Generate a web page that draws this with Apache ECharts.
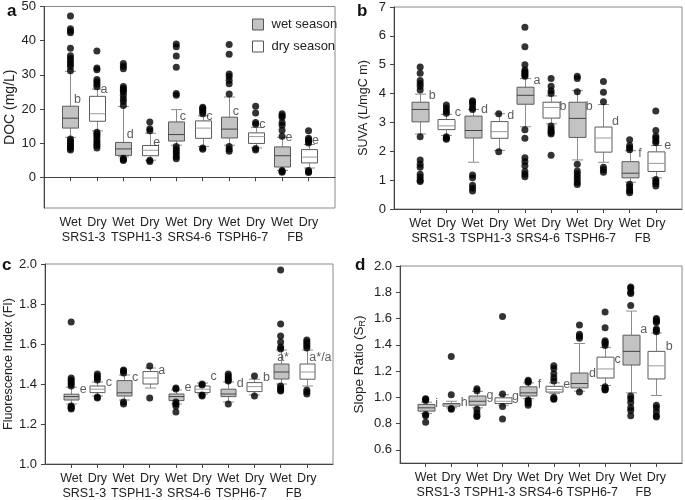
<!DOCTYPE html>
<html><head><meta charset="utf-8">
<script src="https://cdn.jsdelivr.net/npm/echarts@6/dist/echarts.min.js"></script>
<style>html,body{margin:0;padding:0;background:#fff}#c{width:685px;height:500px}</style>
</head><body><div id="c"></div>
<script>
// ---------- data ----------
const seasons = ['Wet', 'Dry'];
const sites = ['SRS1-3', 'TSPH1-3', 'SRS4-6', 'TSPH6-7', 'FB'];

// [lower whisker, Q1, median, Q3, upper whisker] for Wet/Dry of each site, in order
const docBox = [
  [11.7, 14.4, 17.3, 20.8, 31.0], [13.6, 16.4, 18.6, 23.7, 25.8],
  [6.0, 6.4, 8.3, 10.2, 20.7],    [5.0, 6.3, 7.9, 9.3, 12.9],
  [9.4, 10.6, 12.5, 16.2, 19.8],  [9.0, 11.4, 14.4, 16.5, 18.0],
  [9.4, 11.5, 14.1, 17.6, 23.5],  [8.6, 9.9, 11.9, 13.0, 14.6],
  [2.0, 3.0, 6.3, 8.9, 11.7],     [2.7, 4.2, 5.9, 8.1, 9.6]
];
const docOut = [
  [47.2, 43.5, 42.8, 42.3, 37.8, 35.6, 34.8, 34.0, 33.2, 32.4, 31.2, 11.2, 10.6, 10.0, 9.5, 9.0, 8.4, 8.0],
  [37.0, 32.0, 31.5, 28.6, 28.0, 27.2, 26.5, 13.2, 12.6, 12.0, 11.2, 10.5, 9.8, 9.2, 8.6],
  [33.3, 32.5, 31.8, 26.6, 26.0, 25.5, 25.0, 24.0, 23.0, 22.2, 21.0, 5.6, 5.2, 4.9],
  [16.2, 14.2, 13.6, 5.0, 4.6],
  [39.0, 38.2, 35.5, 32.2, 24.5, 24.0, 9.0, 8.2, 7.5, 6.8, 6.0, 5.4],
  [20.5, 20.1, 19.7, 19.2, 18.6, 8.6, 8.2],
  [38.9, 36.0, 30.2, 29.5, 28.4, 27.4, 24.4, 9.0, 8.2, 7.6],
  [20.8, 18.8, 16.0, 15.5, 8.4, 8.0],
  [18.6, 18.0, 17.6, 16.0, 15.2, 13.8, 12.0, 2.0, 1.7, 1.5],
  [13.6, 11.4, 11.0, 10.5, 10.0, 2.0, 1.6, 1.4]
];
const docLetters = ['b', 'a', 'd', 'e', 'c', 'c', 'c', 'c', 'e', 'e'];
const docLetterAt = [22.7, 25.8, 12.5, 10.2, 17.8, 17.8, 19.1, 15.4, 11.5, 10.7];

const suvaBox = [
  [2.6, 3.02, 3.45, 3.7, 3.98],  [2.55, 2.75, 2.88, 3.1, 3.28],
  [1.62, 2.46, 2.72, 3.22, 3.45], [2.03, 2.45, 2.68, 3.03, 3.3],
  [2.85, 3.63, 3.94, 4.22, 4.52], [2.95, 3.15, 3.52, 3.7, 3.92],
  [1.7, 2.48, 3.14, 3.7, 4.1],    [1.62, 1.97, 2.46, 2.84, 3.62],
  [0.93, 1.08, 1.24, 1.64, 2.02], [1.08, 1.3, 1.58, 1.98, 2.2]
];
const suvaOut = [
  [4.92, 4.7, 4.45, 4.35, 4.25, 4.12, 2.5, 1.7, 1.55, 1.45, 1.2, 1.1, 1.0, 0.95],
  [3.6, 3.5, 3.4, 3.32, 2.5, 2.45, 2.42],
  [3.75, 3.7, 3.62, 3.5, 3.45, 1.18, 1.08, 0.82, 0.72, 0.62],
  [3.3, 1.98],
  [6.3, 5.62, 5.0, 4.82, 4.76, 4.7, 4.64, 4.6, 2.75, 2.45, 1.78, 1.65, 1.5, 1.3, 1.2, 1.12],
  [4.52, 4.25, 4.1, 4.0, 2.88, 2.78, 2.7, 2.65, 2.6, 1.86],
  [4.6, 4.52, 4.06, 1.55, 1.32, 1.22, 1.12, 1.02, 0.92, 0.85],
  [4.42, 4.05, 3.72, 1.45, 1.36, 1.27],
  [2.4, 2.2, 2.12, 2.05, 0.86, 0.78, 0.68, 0.62, 0.56],
  [3.4, 2.72, 2.52, 2.45, 2.36, 2.3, 1.02, 0.95, 0.88, 0.8]
];
const suvaLetters = ['b', 'c', 'd', 'd', 'a', 'b', 'b', 'd', 'f', 'e'];
const suvaLetterAt = [3.92, 3.35, 3.43, 3.23, 4.45, 3.55, 3.55, 3.04, 1.91, 2.2];

const fiBox = [
  [1.30, 1.32, 1.337, 1.349, 1.384], [1.34, 1.357, 1.374, 1.39, 1.41],
  [1.32, 1.34, 1.356, 1.417, 1.445], [1.38, 1.40, 1.43, 1.462, 1.48],
  [1.30, 1.317, 1.337, 1.35, 1.37],  [1.35, 1.357, 1.374, 1.39, 1.405],
  [1.31, 1.337, 1.35, 1.374, 1.41],  [1.345, 1.362, 1.387, 1.407, 1.424],
  [1.40, 1.425, 1.46, 1.50, 1.57],   [1.39, 1.424, 1.46, 1.50, 1.57]
];
const fiOut = [
  [1.71, 1.43, 1.42, 1.41, 1.40, 1.39, 1.29, 1.285, 1.28, 1.275],
  [1.45, 1.44, 1.43, 1.42, 1.335, 1.33],
  [1.47, 1.465, 1.455, 1.31, 1.30],
  [1.49, 1.33],
  [1.38, 1.375, 1.31, 1.30, 1.29, 1.26],
  [1.40, 1.395, 1.345, 1.34],
  [1.45, 1.44, 1.43, 1.42, 1.415, 1.30],
  [1.44, 1.34],
  [1.97, 1.70, 1.64, 1.61, 1.585, 1.575, 1.39, 1.38, 1.37, 1.365],
  [1.62, 1.61, 1.60, 1.59, 1.58, 1.37, 1.36, 1.35]
];
const fiLetters = ['e', 'c', 'c', 'a', 'e', 'c', 'd', 'b', 'a*', 'a*/a'];
const fiLetterAt = [1.37, 1.407, 1.43, 1.467, 1.384, 1.437, 1.40, 1.432, 1.534, 1.534];

const srBox = [
  [0.877, 0.895, 0.92, 0.946, 0.963], [0.92, 0.933, 0.946, 0.953, 0.97],
  [0.92, 0.94, 0.97, 1.01, 1.045],    [0.94, 0.953, 0.97, 0.996, 1.02],
  [0.99, 1.01, 1.034, 1.08, 1.11],    [1.03, 1.04, 1.06, 1.084, 1.11],
  [1.047, 1.072, 1.105, 1.185, 1.41], [1.09, 1.147, 1.216, 1.306, 1.38],
  [1.034, 1.246, 1.35, 1.473, 1.657], [1.014, 1.14, 1.24, 1.35, 1.49]
];
const srOut = [
  [0.99, 0.985, 0.975, 0.87, 0.86, 0.81],
  [1.31, 1.02, 0.915, 0.91],
  [1.065, 1.05, 0.91, 0.88, 0.86, 0.855],
  [1.615, 1.025, 0.93, 0.835],
  [1.13, 1.12, 1.115, 0.98, 0.97, 0.955, 0.94],
  [1.24, 1.22, 1.18, 1.15, 1.125, 1.0, 0.99, 0.985],
  [1.55, 1.48, 1.465, 1.45, 1.04],
  [1.65, 1.53, 1.43, 1.42, 1.41, 1.395, 1.08, 1.07, 1.06, 1.055],
  [1.84, 1.83, 1.80, 1.79, 1.70, 1.01, 0.99, 0.96, 0.92, 0.90, 0.86],
  [1.60, 1.59, 1.58, 1.57, 1.52, 1.51, 1.50, 0.94, 0.92, 0.89, 0.86, 0.85]
];
const srLetters = ['i', 'h', 'g', 'g', 'f', 'e', 'd', 'c', 'a', 'b'];
const srLetterAt = [0.953, 0.963, 1.014, 1.009, 1.097, 1.097, 1.18, 1.286, 1.513, 1.387];

const docTicks = [0, 10, 20, 30, 40, 50];
const srTicks = [0.6, 0.8, 1.0, 1.2, 1.4, 1.6, 1.8, 2.0];

// ---------- chart ----------
const FONT = '"Liberation Sans", Arial, sans-serif';
const WET_FILL = '#c3c3c3';
const xCats = [''];
sites.forEach(() => seasons.forEach(s => xCats.push(s)));
xCats.push('');
const siteRow = [];
for (let i = 0; i < 11; i++) siteRow.push(i % 2 === 1 ? sites[(i - 1) / 2] : '');

const panels = [
  { box: docBox, out: docOut, letters: docLetters, at: docLetterAt, grid: { left: 44, right: 350, top: 6, bottom: 292 },
    y: { min: -9, max: 50, axisLabel: { customValues: docTicks }, axisTick: { customValues: docTicks } },
    name: 'DOC (mg/L)', nameSize: 14, nameGap: 25, boxW: 16, dx: 3 },
  { box: suvaBox, out: suvaOut, letters: suvaLetters, at: suvaLetterAt, grid: { left: 394, right: 2, top: 7, bottom: 291 },
    y: { min: 0, max: 7, interval: 1 },
    name: 'SUVA (L/mgC m)', nameSize: 12.5, nameGap: 24, boxW: 17, dx: 8 },
  { box: fiBox, out: fiOut, letters: fiLetters, at: fiLetterAt, grid: { left: 45, right: 352, top: 264, bottom: 36 },
    y: { min: 1.0, max: 2.0, interval: 0.2, axisLabel: { formatter: v => v.toFixed(1) } },
    name: 'Fluorescence Index (FI)', nameSize: 12.5, nameGap: 26, boxW: 15, dx: 8 },
  { box: srBox, out: srOut, letters: srLetters, at: srLetterAt, grid: { left: 400, right: 2, top: 266, bottom: 37 },
    y: { min: 0.5, max: 2.0, axisLabel: { customValues: srTicks, formatter: v => v.toFixed(1) }, axisTick: { customValues: srTicks } },
    name: 'Slope Ratio (S{sub|R})', nameSize: 13.5, nameGap: 33, boxW: 17, dx: 9 }
];

function boxRenderer(fill, medColor, boxW) {
  return function (params, api) {
    const c = api.value(0);
    const p = [1, 2, 3, 4, 5].map(d => api.coord([c, api.value(d)]));
    const x = Math.round(p[0][0]) + 0.5;
    const hw = boxW / 2, cw = 5.5;
    const wk = { stroke: '#8c8c8c', lineWidth: 1 };
    return {
      type: 'group', children: [
        { type: 'line', shape: { x1: x, y1: p[4][1], x2: x, y2: p[3][1] }, style: wk },
        { type: 'line', shape: { x1: x, y1: p[1][1], x2: x, y2: p[0][1] }, style: wk },
        { type: 'line', shape: { x1: x - cw, y1: p[4][1], x2: x + cw, y2: p[4][1] }, style: wk },
        { type: 'line', shape: { x1: x - cw, y1: p[0][1], x2: x + cw, y2: p[0][1] }, style: wk },
        { type: 'rect', shape: { x: x - hw, y: p[3][1], width: boxW, height: p[1][1] - p[3][1] },
          style: { fill: fill, stroke: '#5c5c5c', lineWidth: 1 } },
        { type: 'line', shape: { x1: x - hw, y1: p[2][1], x2: x + hw, y2: p[2][1] }, style: { stroke: medColor, lineWidth: 1 } }
      ]
    };
  };
}

const grids = [], xAxes = [], yAxes = [], series = [];
panels.forEach((P, gi) => {
  grids.push(Object.assign({ show: true, borderColor: '#8a8a8a', borderWidth: 1, backgroundColor: 'transparent' }, P.grid));
  xAxes.push({
    gridIndex: gi, type: 'category', data: xCats, boundaryGap: false,
    axisLine: { lineStyle: { color: '#444', width: 1 } },
    axisTick: { show: true, length: 4, interval: (i) => i > 0 && i < 11, lineStyle: { color: '#444' } },
    axisLabel: { interval: 0, margin: 8, color: '#222', fontSize: 12.5, fontFamily: FONT },
    splitLine: { show: false }
  });
  xAxes.push({
    gridIndex: gi, type: 'category', data: siteRow, boundaryGap: true, position: 'bottom', offset: 15,
    axisLine: { show: false }, axisTick: { show: false },
    axisLabel: { interval: 0, margin: 8, color: '#222', fontSize: 12.5, fontFamily: FONT },
    splitLine: { show: false }
  });
  const ya = Object.assign({
    gridIndex: gi, type: 'value', splitLine: { show: false },
    axisLine: { show: true, lineStyle: { color: '#444', width: 1 } },
    name: P.name, nameLocation: 'middle', nameGap: P.nameGap,
    nameTextStyle: { fontSize: P.nameSize, color: '#222', fontFamily: FONT,
      rich: { sub: { fontSize: 9, color: '#222', fontFamily: FONT, verticalAlign: 'bottom', padding: [6, 0, 0, 0] } } }
  }, P.y);
  ya.axisLabel = Object.assign({ margin: 8, color: '#222', fontSize: 13, fontFamily: FONT }, P.y.axisLabel || {});
  ya.axisTick = Object.assign({ show: true, length: 4, lineStyle: { color: '#444' } }, P.y.axisTick || {});
  yAxes.push(ya);

  const wetData = [], dryData = [];
  P.box.forEach((b, i) => (i % 2 === 0 ? wetData : dryData).push([i + 1].concat(b)));
  series.push({
    type: 'custom', name: 'wet season', xAxisIndex: gi * 2, yAxisIndex: gi,
    renderItem: boxRenderer(WET_FILL, '#444', P.boxW), data: wetData,
    encode: { x: 0, y: [1, 2, 3, 4, 5] }, itemStyle: { color: WET_FILL }, z: 2
  });
  series.push({
    type: 'custom', name: 'dry season', xAxisIndex: gi * 2, yAxisIndex: gi,
    renderItem: boxRenderer('#ffffff', '#9a9a9a', P.boxW), data: dryData,
    encode: { x: 0, y: [1, 2, 3, 4, 5] }, itemStyle: { color: '#fff' }, z: 2
  });
  const outData = [];
  P.out.forEach((arr, i) => arr.forEach(v => outData.push([i + 1, v])));
  series.push({
    type: 'scatter', xAxisIndex: gi * 2, yAxisIndex: gi, data: outData,
    symbolSize: 7, itemStyle: { color: '#000' }, z: 4, silent: true
  });
  series.push({
    type: 'scatter', xAxisIndex: gi * 2, yAxisIndex: gi, z: 5, silent: true,
    symbolSize: 1, itemStyle: { color: 'transparent' },
    data: P.letters.map((l, i) => ({
      value: [i + 1, P.at[i]],
      label: l.indexOf('*') >= 0 ? { offset: [-P.dx - (l === 'a*' ? 4 : -2), 0] } : undefined
    })),
    label: {
      show: true, position: 'right', distance: P.dx, color: '#333', fontSize: 12.5, fontFamily: FONT,
      formatter: (p) => P.letters[p.dataIndex]
    }
  });
});

const chart = echarts.init(document.getElementById('c'), null, { renderer: 'canvas' });
chart.setOption({
  animation: false,
  backgroundColor: '#fff',
  grid: grids, xAxis: xAxes, yAxis: yAxes, series: series,
  legend: {
    data: [
      { name: 'wet season', itemStyle: { color: WET_FILL, borderColor: '#555', borderWidth: 1 } },
      { name: 'dry season', itemStyle: { color: '#fff', borderColor: '#555', borderWidth: 1 } }
    ],
    orient: 'vertical', left: 247, top: 13, itemWidth: 11, itemHeight: 11, itemGap: 9,
    icon: 'rect', selectedMode: false,
    textStyle: { fontSize: 13, color: '#222', fontFamily: FONT, padding: [0, 0, 0, 3] }
  },
  graphic: [
    { type: 'text', left: 7, top: 3, style: { text: 'a', font: 'bold 17px ' + FONT, fill: '#111' } },
    { type: 'text', left: 357, top: 3, style: { text: 'b', font: 'bold 17px ' + FONT, fill: '#111' } },
    { type: 'text', left: 2, top: 257, style: { text: 'c', font: 'bold 17px ' + FONT, fill: '#111' } },
    { type: 'text', left: 355, top: 257, style: { text: 'd', font: 'bold 17px ' + FONT, fill: '#111' } }
  ]
});
</script></body></html>
